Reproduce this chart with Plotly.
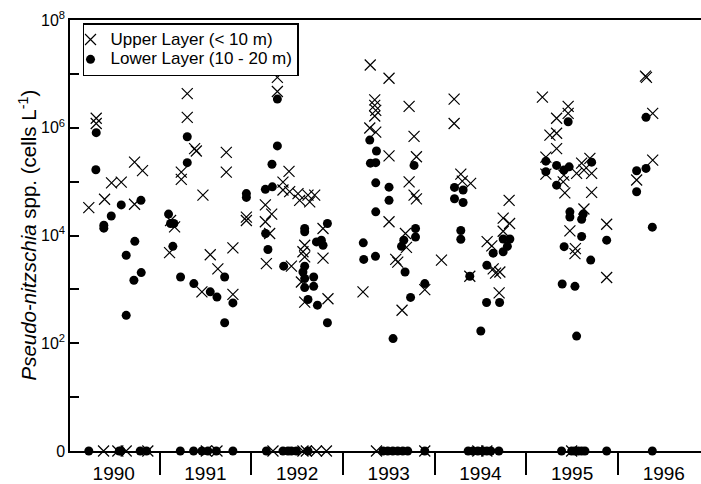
import plotly.graph_objects as go

# ---- data: sampling date (decimal year) and Pseudo-nitzschia spp. abundance (cells/L); 0 = not detected
upper_date = [
    1990.228, 1990.309, 1990.309, 1990.400, 1990.476, 1990.582, 1990.727, 1990.814, 1990.727,
    1990.389, 1990.545, 1990.636, 1990.872,
    1991.109, 1991.120, 1991.164, 1991.237, 1991.237, 1991.302, 1991.302, 1991.382, 1991.401,
    1991.473, 1991.553, 1991.636, 1991.462, 1991.728, 1991.728, 1991.800, 1991.800, 1991.947,
    1991.947, 1991.510, 1991.626,
    1992.165, 1992.154, 1992.223, 1992.154, 1992.201, 1992.285, 1992.285, 1992.412, 1992.346,
    1992.346, 1992.419, 1992.510, 1992.528, 1992.619, 1992.638, 1992.692, 1992.438, 1992.583,
    1992.564, 1992.583, 1992.547, 1992.583, 1992.783, 1992.783, 1992.837,
    1992.237, 1992.564, 1992.601, 1992.711, 1992.820,
    1993.298, 1993.503, 1993.347, 1993.347, 1993.358, 1993.347, 1993.293, 1993.358, 1993.503,
    1993.503, 1993.219, 1993.722, 1993.776, 1993.802, 1993.722, 1993.776, 1993.802, 1993.682,
    1993.693, 1993.576, 1993.598, 1993.645, 1993.893,
    1993.366, 1993.893,
    1994.075, 1994.213, 1994.213, 1994.286, 1994.302, 1994.393, 1994.384, 1994.573, 1994.624,
    1994.639, 1994.665, 1994.712, 1994.704, 1994.813, 1994.748, 1994.818, 1994.748,
    1994.472, 1994.570,
    1995.176, 1995.457, 1995.457, 1995.331, 1995.258, 1995.331, 1995.331, 1995.214, 1995.214,
    1995.410, 1995.403, 1995.549, 1995.604, 1995.629, 1995.694, 1995.713, 1995.421, 1995.713,
    1995.629, 1995.476, 1995.536, 1995.531, 1995.877, 1995.877,
    1995.495,
    1996.300, 1996.311, 1996.379, 1996.379, 1996.204,
]
upper_cells = [
    3.3e4, 1.5e6, 1.2e6, 4.7e4, 9.5e4, 9.8e4, 2.3e5, 1.6e5, 3.8e4,
    0, 0, 0, 0,
    4.8e3, 1.9e4, 1.45e4, 1.5e5, 1.1e5, 4.3e6, 1.56e6, 4.1e5, 3.7e5,
    5.6e4, 4.4e3, 2.4e3, 9.0e2, 3.5e5, 1.5e5, 5.9e3, 8.1e2, 2.2e4,
    1.9e4, 0, 0,
    3.0e3, 3.7e4, 2.5e4, 1.8e4, 1.09e4, 8.6e6, 4.7e6, 1.55e5, 9.8e4,
    7.0e4, 6.5e4, 6.0e4, 4.5e4, 5.6e4, 4.2e4, 5.6e4, 2.7e3, 6.6e3,
    5.0e3, 4.0e3, 1.37e3, 5.8e2, 1.35e4, 3.8e3, 6.7e2,
    0, 0, 0, 0, 0,
    1.46e7, 8.3e6, 3.3e6, 2.6e6, 2.1e6, 1.65e6, 9.9e5, 8.3e5, 3.0e5,
    1.8e4, 9.0e2, 2.5e6, 6.9e5, 2.9e5, 9.9e4, 5.6e4, 4.8e4, 1.09e4,
    6.0e3, 3.6e3, 3.2e3, 4.1e2, 9.9e2,
    0, 0,
    3.5e3, 3.4e6, 1.2e6, 1.38e5, 1.02e5, 9.3e4, 1.75e3, 7.7e3, 6.4e3,
    2.4e3, 2.0e3, 2.1e3, 8.6e2, 4.5e4, 2.1e4, 1.67e4, 1.2e4,
    0, 0,
    3.7e6, 2.5e6, 1.85e6, 1.5e6, 7.3e5, 7.9e5, 4.1e5, 2.85e5, 1.38e5,
    1.32e5, 9.9e4, 1.42e5, 2.2e5, 1.64e5, 2.7e5, 1.42e5, 6.2e4, 6.3e4,
    3.1e4, 1.22e4, 5.7e3, 4.6e3, 1.62e4, 1.66e3,
    0,
    9.1e6, 8.6e6, 1.85e6, 2.5e5, 1.07e5,
]

lower_date = [
    1990.309, 1990.305, 1990.392, 1990.392, 1990.473, 1990.582, 1990.797, 1990.730, 1990.636,
    1990.720, 1990.800, 1990.636,
    1990.228, 1990.560, 1990.580, 1990.789, 1990.858,
    1991.098, 1991.120, 1991.156, 1991.145, 1991.302, 1991.302, 1991.229, 1991.374, 1991.553,
    1991.626, 1991.710, 1991.710, 1991.800, 1991.947, 1991.947,
    1991.226, 1991.371, 1991.462, 1991.527, 1991.619, 1991.800,
    1992.154, 1992.230, 1992.285, 1992.285, 1992.226, 1992.157, 1992.182, 1992.354, 1992.583,
    1992.583, 1992.711, 1992.765, 1992.783, 1992.831, 1992.583, 1992.564, 1992.583, 1992.681,
    1992.583, 1992.681, 1992.619, 1992.722, 1992.831,
    1992.165, 1992.346, 1992.401, 1992.438, 1992.492, 1992.619,
    1993.293, 1993.366, 1993.300, 1993.358, 1993.358, 1993.503, 1993.503, 1993.358, 1993.222,
    1993.227, 1993.355, 1993.776, 1993.792, 1993.792, 1993.664, 1993.639, 1993.678, 1993.893,
    1993.738, 1993.547,
    1993.438, 1993.489, 1993.544, 1993.598, 1993.653, 1993.707, 1993.893,
    1994.217, 1994.217, 1994.311, 1994.311, 1994.286, 1994.286, 1994.384, 1994.570, 1994.639,
    1994.748, 1994.748, 1994.821, 1994.794, 1994.567, 1994.709, 1994.504,
    1994.366, 1994.417, 1994.472, 1994.526, 1994.570, 1994.614, 1994.701,
    1995.457, 1995.214, 1995.214, 1995.331, 1995.410, 1995.468, 1995.331, 1995.713, 1995.476,
    1995.476, 1995.604, 1995.621, 1995.604, 1995.413, 1995.703, 1995.877, 1995.392, 1995.531,
    1995.549,
    1995.385, 1995.495, 1995.531, 1995.567, 1995.604, 1995.640, 1995.877,
    1996.306, 1996.306, 1996.204, 1996.204, 1996.375,
    1996.375,
]
lower_cells = [
    8.1e5, 1.66e5, 1.55e4, 1.37e4, 2.3e4, 3.7e4, 4.5e4, 7.8e3, 4.3e3,
    1.48e3, 2.05e3, 3.3e2,
    0, 0, 0, 0, 0,
    2.5e4, 1.67e4, 1.67e4, 6.3e3, 6.8e5, 2.25e5, 1.7e3, 1.28e3, 9.0e2,
    7.2e2, 1.7e3, 2.4e2, 5.6e2, 6.0e4, 5.1e4,
    0, 0, 0, 0, 0, 0,
    7.2e4, 8.0e4, 3.4e6, 4.6e5, 2.1e5, 1.09e4, 5.5e3, 2.7e3, 1.35e4,
    1.17e4, 7.6e3, 8.2e3, 6.6e3, 1.67e4, 2.7e3, 2.1e3, 1.59e3, 1.7e3,
    1.08e3, 1.14e3, 6.5e2, 5.1e2, 2.4e2,
    0, 0, 0, 0, 0, 0,
    5.9e5, 3.7e5, 2.2e5, 2.25e5, 9.5e4, 7.9e4, 4.5e4, 2.75e4, 7.3e3,
    3.6e3, 4.1e3, 2.0e5, 1.35e4, 9.4e3, 8.2e3, 6.3e3, 2.1e3, 1.28e3,
    7.1e2, 1.22e2,
    0, 0, 0, 0, 0, 0, 0,
    7.8e4, 4.8e4, 7.0e4, 4.1e4, 1.24e4, 8.5e3, 1.75e3, 2.8e3, 4.7e3,
    5.0e3, 8.6e3, 8.6e3, 6.3e3, 5.7e2, 5.7e2, 1.69e2,
    0, 0, 0, 0, 0, 0, 0,
    1.29e6, 2.4e5, 1.53e5, 2.0e5, 1.64e5, 1.88e5, 8.6e4, 2.3e5, 2.75e4,
    2.2e4, 2.0e4, 2.5e4, 9.6e3, 6.2e3, 3.5e3, 8.2e3, 1.26e3, 1.14e3,
    1.36e2,
    0, 0, 0, 0, 0, 0, 0,
    1.56e6, 1.76e5, 1.59e5, 6.5e4, 1.43e4,
    0,
]

years = [1990, 1991, 1992, 1993, 1994, 1995, 1996]
y_tick_vals = [1, 1e2, 1e4, 1e6, 1e8]
y_tick_text = ["0", "10<sup>2</sup>", "10<sup>4</sup>", "10<sup>6</sup>", "10<sup>8</sup>"]
y_minor_vals = [1e1, 1e3, 1e5, 1e7]
series_names = ["Upper Layer (< 10 m)", "Lower Layer (10 - 20 m)"]
y_title = "<i>Pseudo-nitzschia</i> spp. (cells L<sup>-1</sup>)"

FONT = "Arial, Liberation Sans, sans-serif"


def on_axis(vals):
    # non-detects (0) are shown on the "0" baseline of the log axis
    return [v if v > 0 else 1 for v in vals]


def legend_label(name):
    # larger text inside a compact legend row
    return '<span style="font-size:17px">' + name + "</span>"


fig = go.Figure()
fig.add_trace(go.Scatter(
    x=upper_date, y=on_axis(upper_cells), mode="markers", name=legend_label(series_names[0]),
    marker=dict(symbol="x-thin-open", size=11, color="black", line=dict(width=1.2, color="black")),
    cliponaxis=False,
))
fig.add_trace(go.Scatter(
    x=lower_date, y=on_axis(lower_cells), mode="markers", name=legend_label(series_names[1]),
    marker=dict(symbol="circle", size=9, color="black"),
    cliponaxis=False,
))

fig.update_layout(
    width=701, height=484,
    margin=dict(l=70, r=0, t=20, b=33),
    paper_bgcolor="white", plot_bgcolor="white",
    font=dict(family=FONT, color="black"),
    showlegend=True,
    legend=dict(
        x=0.0206, y=0.993, xanchor="left", yanchor="top",
        bgcolor="white", bordercolor="black", borderwidth=1.5,
        font=dict(size=13, family=FONT, color="black"),
        indentation=-14, tracegroupgap=0,
    ),
    annotations=[dict(
        text=y_title, xref="paper", yref="paper", x=-0.0681, y=0.5,
        xanchor="center", yanchor="middle", textangle=-90, showarrow=False,
        font=dict(size=20.5, family=FONT, color="black"),
    )],
)
fig.update_xaxes(
    range=[1990.023, 1996.906], automargin=False,
    showgrid=False, zeroline=False,
    showline=True, linecolor="black", linewidth=1.5, mirror=True,
    tickmode="array", tickvals=[y + 0.5 for y in years], ticktext=[str(y) for y in years],
    ticks="outside", ticklen=4, tickcolor="rgba(0,0,0,0)",
    tickfont=dict(size=19, family=FONT, color="black"),
    minor=dict(tickmode="array", tickvals=years[1:], ticks="outside", ticklen=22,
               tickwidth=1.5, tickcolor="black", showgrid=False),
)
fig.update_yaxes(
    type="log", range=[0, 8], automargin=False,
    showgrid=False, zeroline=False,
    showline=True, linecolor="black", linewidth=1.5,
    tickmode="array", tickvals=y_tick_vals, ticktext=y_tick_text,
    ticks="inside", ticklen=9, tickwidth=1.5, tickcolor="black",
    tickfont=dict(size=16, family=FONT, color="black"),
    minor=dict(tickmode="array", tickvals=y_minor_vals, ticks="inside", ticklen=9,
               tickwidth=1.5, tickcolor="black", showgrid=False),
)

fig.write_html("out.html")
